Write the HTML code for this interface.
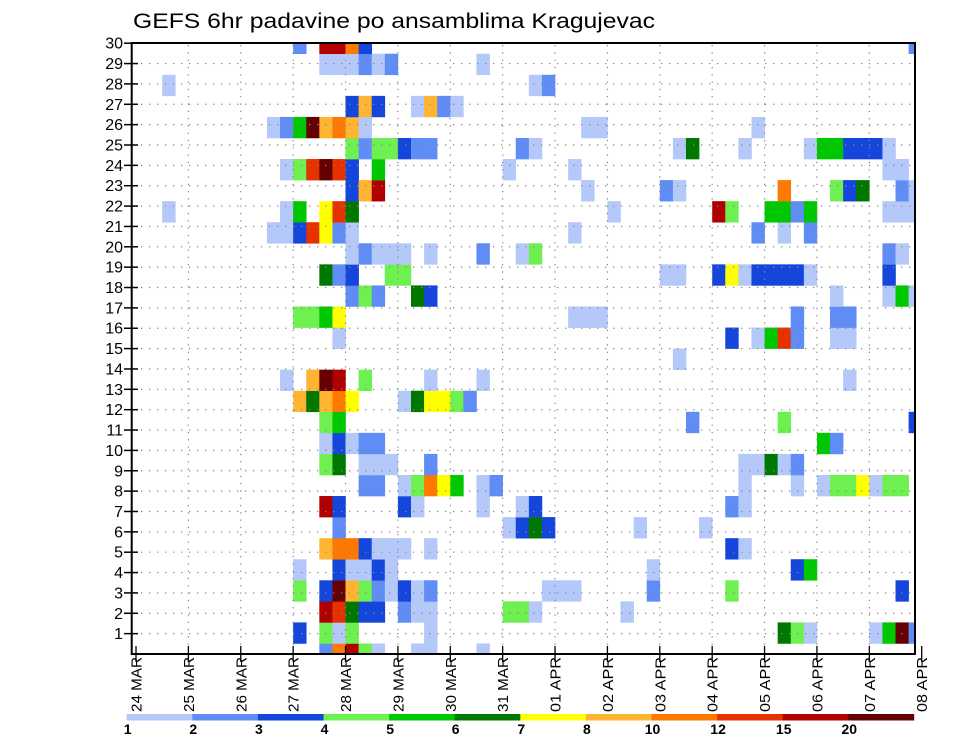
<!DOCTYPE html>
<html>
<head>
<meta charset="utf-8">
<style>
  html,body{margin:0;padding:0;background:#fff;}
  svg{display:block;}
  text{font-family:"Liberation Sans",sans-serif;fill:#000;}
</style>
</head>
<body>
<svg id="chart" width="960" height="742" viewBox="0 0 960 742" xmlns="http://www.w3.org/2000/svg">
  <text x="133" y="28" font-size="21" textLength="522" lengthAdjust="spacingAndGlyphs">GEFS 6hr padavine po ansamblima Kragujevac</text>
  <defs>
    <clipPath id="plotClip"><rect x="132" y="43" width="783" height="611"/></clipPath>
  </defs>
  <g id="cells" clip-path="url(#plotClip)"></g>
  <g id="grid"></g>
  <g id="axes"></g>
  <g id="colorbar"></g>
</svg>
<script>
// ---- data ----
const dayLabels = ["24 MAR","25 MAR","26 MAR","27 MAR","28 MAR","29 MAR","30 MAR","31 MAR","01 APR","02 APR","03 APR","04 APR","05 APR","06 APR","07 APR","08 APR"];
const memberTicks = [1,2,3,4,5,6,7,8,9,10,11,12,13,14,15,16,17,18,19,20,21,22,23,24,25,26,27,28,29,30];
const levels = [1,2,3,4,5,6,7,8,10,12,15,20];
const levelColors = ["#b4c8fa","#5f8cf5","#1446dc","#6ef050","#00c800","#007800","#ffff00","#ffb432","#ff7800","#e63200","#b00000","#640000"];
// per member: [6h step index, precipitation class 1..12]
const member00 = [[14,2],[15,9],[16,11],[17,4],[18,1],[21,1],[22,1],[26,1]];
const member01 = [[12,3],[14,4],[15,1],[16,4],[22,1],[49,6],[50,4],[51,1],[56,1],[57,5],[58,12],[59,2]];
const member02 = [[14,11],[15,10],[16,6],[17,3],[18,3],[20,2],[21,1],[22,1],[28,4],[29,4],[30,1],[37,1]];
const member03 = [[12,4],[14,3],[15,12],[16,8],[17,4],[18,2],[19,1],[20,3],[21,1],[22,2],[31,1],[32,1],[33,1],[39,2],[45,4],[58,3]];
const member04 = [[12,1],[15,3],[16,1],[17,1],[18,3],[19,1],[39,1],[50,3],[51,5]];
const member05 = [[14,8],[15,9],[16,9],[17,3],[18,1],[19,1],[20,1],[22,1],[45,3],[46,1]];
const member06 = [[15,2],[28,1],[29,3],[30,6],[31,3],[38,1],[43,1]];
const member07 = [[14,11],[15,3],[20,3],[21,1],[26,1],[29,1],[30,3],[45,2],[46,1]];
const member08 = [[17,2],[18,2],[20,1],[21,4],[22,9],[23,7],[24,5],[26,1],[27,2],[46,1],[50,1],[52,1],[53,4],[54,4],[55,7],[56,1],[57,4],[58,4]];
const member09 = [[14,4],[15,6],[17,1],[18,1],[19,1],[22,2],[46,1],[47,1],[48,6],[49,1],[50,2]];
const member10 = [[14,1],[15,3],[16,1],[17,2],[18,2],[52,5],[53,2]];
const member11 = [[14,4],[15,5],[42,2],[49,4],[59,3]];
const member12 = [[12,8],[13,6],[14,8],[15,9],[16,7],[20,1],[21,6],[22,7],[23,7],[24,4],[25,2]];
const member13 = [[11,1],[13,8],[14,12],[15,11],[17,4],[22,1],[26,1],[54,1]];
const member14 = [[41,1]];
const member15 = [[15,1],[45,3],[47,1],[48,5],[49,10],[50,2],[53,1],[54,1]];
const member16 = [[12,4],[13,4],[14,5],[15,7],[33,1],[34,1],[35,1],[50,2],[53,2],[54,2]];
const member17 = [[16,2],[17,4],[18,2],[21,6],[22,3],[53,1],[57,1],[58,5],[59,1]];
const member18 = [[14,6],[15,2],[16,3],[19,4],[20,4],[40,1],[41,1],[44,3],[45,7],[46,1],[47,3],[48,3],[49,3],[50,3],[51,1],[57,3]];
const member19 = [[16,1],[17,2],[18,1],[19,1],[20,1],[22,1],[26,2],[29,1],[30,4],[57,2],[58,1]];
const member20 = [[10,1],[11,1],[12,3],[13,10],[14,7],[15,2],[16,1],[33,1],[47,2],[49,1],[51,2]];
const member21 = [[2,1],[11,1],[12,5],[14,7],[15,10],[16,6],[36,1],[44,11],[45,4],[48,5],[49,5],[50,2],[51,5],[57,1],[58,1],[59,1]];
const member22 = [[16,3],[17,8],[18,11],[34,1],[40,2],[41,1],[49,9],[53,4],[54,3],[55,6],[58,2],[59,1]];
const member23 = [[11,1],[12,4],[13,10],[14,12],[15,10],[16,3],[18,5],[28,1],[33,1],[57,1],[58,1]];
const member24 = [[16,4],[17,2],[18,4],[19,4],[20,3],[21,2],[22,2],[29,2],[30,1],[41,1],[42,6],[46,1],[51,1],[52,5],[53,5],[54,3],[55,3],[56,3],[57,1]];
const member25 = [[10,1],[11,2],[12,5],[13,12],[14,8],[15,9],[16,8],[17,1],[34,1],[35,1],[47,1]];
const member26 = [[16,3],[17,8],[18,3],[21,1],[22,8],[23,2],[24,1]];
const member27 = [[2,1],[30,1],[31,2]];
const member28 = [[14,1],[15,1],[16,1],[17,2],[18,1],[19,2],[26,1]];
const member29 = [[12,2],[14,11],[15,11],[16,9],[17,3],[59,2]];

// ---- helpers ----
const NS = "http://www.w3.org/2000/svg";
const X0 = 136, DAYW = 52.38;
const YBOT = 654, TICKH = 20.36;
const NMEM = 30;
function xScale(hours){ return X0 + hours/24*DAYW; }
function yScale(v){ return YBOT - v*TICKH; }
function memberY(k){ return yScale(k*30/(NMEM-1)); }
function classToValue(i){
  const lo = levels[i-1], hi = (i<levels.length)?levels[i]:25;
  return (lo+hi)/2;
}
function valueColor(v){
  let idx=-1;
  for(let i=0;i<levels.length;i++){ if(v>=levels[i]) idx=i; }
  return idx<0?null:levelColors[idx];
}
function mk(tag, attrs, parent){
  const e=document.createElementNS(NS,tag);
  for(const k in attrs) e.setAttribute(k, attrs[k]);
  parent.appendChild(e); return e;
}

// ---- cells ----
const members = [member00,member01,member02,member03,member04,member05,member06,member07,member08,member09,member10,member11,member12,member13,member14,member15,member16,member17,member18,member19,member20,member21,member22,member23,member24,member25,member26,member27,member28,member29];
const gCells = document.getElementById('cells');
const cellH = memberY(0)-memberY(1);
members.forEach((row,k)=>{
  row.forEach(([c,cls])=>{
    const v = classToValue(cls);
    const col = valueColor(v);
    if(!col) return;
    const x1 = xScale(c*6), x2 = xScale(c*6+6);
    const yc = memberY(k);
    const r = mk('rect',{x:x1.toFixed(2),y:(yc-cellH/2).toFixed(2),width:(x2-x1+0.3).toFixed(2),height:(cellH+0.3).toFixed(2),fill:col},gCells);
    
    
  });
});

// ---- grid ----
const gGrid = document.getElementById('grid');
memberTicks.forEach(v=>{
  if(v>=30) return;
  const y=yScale(v);
  const l=mk('line',{x1:133,x2:914,y1:y,y2:y,stroke:"#888","stroke-width":1.2,"stroke-dasharray":"1.3 6.7"},gGrid);
  
  
});
for(let d=1; d<dayLabels.length-1; d++){
  const x=xScale(d*24);
  const l=mk('line',{x1:x,x2:x,y1:45,y2:653,stroke:"#888","stroke-width":1.2,"stroke-dasharray":"1.3 6"},gGrid);
  
  
}

// ---- axes ----
const gAx = document.getElementById('axes');
const frame = mk('rect',{x:131.7,y:43,width:783.3,height:611,fill:"none",stroke:"#000","stroke-width":2},gAx);


memberTicks.forEach(v=>{
  const y=yScale(v);
  const t=mk('line',{x1:124,x2:138,y1:y,y2:y,stroke:"#000","stroke-width":1.5},gAx);
  
  
  const tx=mk('text',{x:123,y:y+5.5,"font-size":16,"text-anchor":"end"},gAx);
  tx.textContent=String(v);
  
  
});
dayLabels.forEach((lab,d)=>{
  const x=xScale(d*24);
  const t=mk('line',{x1:x,x2:x,y1:646,y2:662,stroke:"#000","stroke-width":1.3},gAx);
  
  
  const tx=mk('text',{x:0,y:0,"font-size":15,"text-anchor":"end",transform:`translate(${(x+5.5).toFixed(2)},657) rotate(-90)`,textLength:55,lengthAdjust:"spacingAndGlyphs"},gAx);
  tx.textContent=lab;
  
  
});

// ---- colour bar ----
const gCb = document.getElementById('colorbar');
const CB0 = 126.7, CBW = 65.6;
levelColors.forEach((col,i)=>{
  const r=mk('rect',{x:CB0+i*CBW,y:714,width:CBW+0.3,height:6.5,fill:col},gCb);
  
  
});
levels.forEach((lv,i)=>{
  const tx=mk('text',{x:CB0+i*CBW+1,y:734,"font-size":14,"font-weight":"bold","text-anchor":"middle"},gCb);
  tx.textContent=String(lv);
  
  
});
</script>
</body>
</html>
